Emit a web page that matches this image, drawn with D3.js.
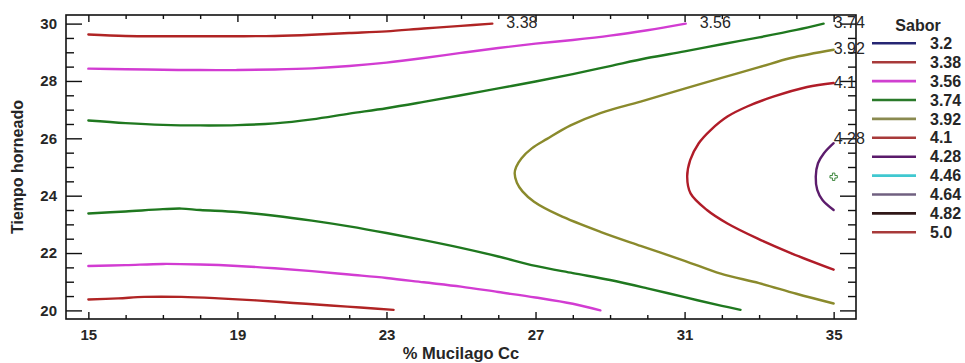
<!DOCTYPE html>
<html>
<head>
<meta charset="utf-8">
<script src="https://cdn.jsdelivr.net/npm/d3@7"></script>
<style>
  html, body { margin: 0; padding: 0; background: #fff; }
  svg { display: block; }
  text { font-family: "Liberation Sans", Arial, sans-serif; fill: #262626; }
</style>
</head>
<body>
<svg id="chart" width="965" height="363"></svg>
<script>
// Contour levels of "Sabor" shown in the legend
const levels = [3.2, 3.38, 3.56, 3.74, 3.92, 4.1, 4.28, 4.46, 4.64, 4.82, 5.0];
const levelLabels = ["3.2", "3.38", "3.56", "3.74", "3.92", "4.1", "4.28", "4.46", "4.64", "4.82", "5.0"];

// Axis ticks
const xTicks = [15, 19, 23, 27, 31, 35];
const yTicks = [20, 22, 24, 26, 28, 30];

// Contour traces: [% Mucilago Cc, Tiempo horneado]
const sabor338Upper = [[15,29.62],[16,29.57],[17,29.56],[18,29.56],[19,29.56],[20,29.57],[21,29.61],[22,29.67],[23,29.73],[24,29.83],[25,29.92],[25.84,30.0]];
const sabor338Lower = [[15,20.38],[15.8,20.42],[16.5,20.47],[17.5,20.47],[18.5,20.42],[19.5,20.35],[20.5,20.26],[21.5,20.17],[22.3,20.1],[23.19,20.02]];
const sabor356Upper = [[15,28.43],[16,28.41],[17,28.39],[18,28.38],[19,28.38],[20,28.4],[21,28.44],[22,28.52],[23,28.64],[24,28.8],[25,28.98],[26,29.15],[27,29.3],[28,29.43],[29,29.58],[30,29.77],[31.03,30.0]];
const sabor356Lower = [[15,21.55],[16,21.58],[17,21.62],[18,21.6],[19,21.55],[20,21.47],[21,21.37],[22,21.25],[23,21.13],[24,20.98],[25,20.83],[26,20.64],[27,20.45],[28,20.23],[28.74,20.0]];
const sabor374Upper = [[15,26.62],[16,26.53],[17,26.47],[18,26.45],[19,26.46],[20,26.52],[21,26.66],[22,26.86],[23,27.05],[24,27.27],[25,27.5],[26,27.74],[27,27.98],[28,28.24],[29,28.52],[30,28.8],[31,29.03],[32,29.28],[33,29.52],[34,29.78],[34.73,30.0]];
const sabor374Lower = [[15,23.38],[16,23.45],[17,23.53],[17.5,23.55],[18,23.5],[19,23.43],[20,23.3],[21,23.13],[22,22.93],[23,22.7],[24,22.45],[25,22.18],[26,21.88],[27,21.55],[28,21.3],[29,21.06],[30,20.77],[31,20.46],[32,20.16],[32.5,20.02]];
const sabor392 = [[35,29.09],[33.85,28.8],[33,28.48],[31.97,28.1],[31,27.73],[29.82,27.28],[28.74,26.88],[27.94,26.45],[27.31,25.98],[26.9,25.65],[26.62,25.3],[26.48,25.0],[26.44,24.78],[26.5,24.45],[26.65,24.15],[26.96,23.79],[27.63,23.32],[28.74,22.74],[29.82,22.25],[31,21.73],[31.97,21.28],[33,20.95],[34,20.58],[35,20.24]];
const sabor410 = [[35,27.93],[34.29,27.79],[33.4,27.46],[32.68,27.11],[32.15,26.76],[31.7,26.29],[31.38,25.83],[31.15,25.24],[31.07,24.66],[31.16,24.08],[31.6,23.5],[32.15,23.03],[32.95,22.51],[33.85,22.0],[35,21.42]];
const sabor428 = [[35,25.83],[34.74,25.48],[34.58,25.13],[34.52,24.66],[34.56,24.2],[34.7,23.85],[35,23.5]];

// Stationary point of the fitted surface
const centerPoint = [35, 24.66];

const contourLines = [
  { level: 3.38, pts: sabor338Upper },
  { level: 3.38, pts: sabor338Lower },
  { level: 3.56, pts: sabor356Upper },
  { level: 3.56, pts: sabor356Lower },
  { level: 3.74, pts: sabor374Upper },
  { level: 3.74, pts: sabor374Lower },
  { level: 3.92, pts: sabor392 },
  { level: 4.1,  pts: sabor410 },
  { level: 4.28, pts: sabor428 }
];

// Line colour for each level
const levelColors = ["#262673", "#b02424", "#d23cd2", "#1f781f", "#8a8a2c", "#b01c28", "#5c1c6c", "#40c8d0", "#706080", "#301818", "#a83838"];
const legendColors = ["#262673", "#a83a3a", "#d040d0", "#2a7a2a", "#8a8a50", "#a83a3a", "#5a1a6a", "#40c8d0", "#706080", "#301818", "#a83a3a"];
const colorOf = d3.scaleOrdinal().domain(levels).range(levelColors);

const svg = d3.select("#chart");
const W = 965, H = 363;
const plot = { left: 66, right: 856, top: 15, bottom: 319 };

const x = d3.scaleLinear().domain([14.4, 35.6]).range([plot.left, plot.right]);
const y = d3.scaleLinear().domain([19.7, 30.3]).range([plot.bottom, plot.top]);

svg.append("rect").attr("width", W).attr("height", H).attr("fill", "#fff");

// Contour lines
const line = d3.line()
  .x(d => x(d[0]))
  .y(d => y(d[1]))
  .curve(d3.curveCatmullRom.alpha(0.5));

svg.append("g")
  .selectAll("path")
  .data(contourLines)
  .join("path")
  .attr("d", d => line(d.pts))
  .attr("fill", "none")
  .attr("stroke", d => colorOf(d.level))
  .attr("stroke-width", 2.4)
  .attr("stroke-linejoin", "round")
  .attr("stroke-linecap", "round");

// Centre marker
svg.append("path")
  .attr("d", d3.symbol(d3.symbolCross, 30)())
  .attr("transform", `translate(${x(centerPoint[0])},${y(centerPoint[1])})`)
  .attr("fill", "none")
  .attr("stroke", "#2a7a2a")
  .attr("stroke-width", 0.9);

// Axes: major ticks with labels, minor ticks without
const xMinor = d3.range(15, 35.01, 1).filter(v => !xTicks.includes(v));
const yMinor = d3.range(20, 30.01, 0.5).filter(v => !yTicks.includes(v));

function styleAxis(g) {
  g.select(".domain").remove();
  g.selectAll(".tick line").attr("stroke", "#111").attr("stroke-width", 1.4);
  g.selectAll(".tick text")
    .attr("fill", "#262626")
    .style("font-family", '"Liberation Sans", Arial, sans-serif')
    .style("font-size", "15px")
    .style("font-weight", "bold");
}

svg.append("g").attr("transform", `translate(0,${plot.bottom})`)
  .call(d3.axisBottom(x).tickValues(xTicks).tickSize(-7).tickPadding(10).tickFormat(d3.format("d")))
  .call(styleAxis);
svg.append("g").attr("transform", `translate(0,${plot.bottom})`)
  .call(d3.axisBottom(x).tickValues(xMinor).tickSize(-4).tickFormat(""))
  .call(styleAxis);
svg.append("g").attr("transform", `translate(0,${plot.top})`)
  .call(d3.axisTop(x).tickValues(xTicks).tickSize(-7).tickFormat(""))
  .call(styleAxis);
svg.append("g").attr("transform", `translate(0,${plot.top})`)
  .call(d3.axisTop(x).tickValues(xMinor).tickSize(-4).tickFormat(""))
  .call(styleAxis);

svg.append("g").attr("transform", `translate(${plot.left},0)`)
  .call(d3.axisLeft(y).tickValues(yTicks).tickSize(-16).tickPadding(9).tickFormat(d3.format("d")))
  .call(styleAxis);
svg.append("g").attr("transform", `translate(${plot.left},0)`)
  .call(d3.axisLeft(y).tickValues(yMinor).tickSize(-8).tickFormat(""))
  .call(styleAxis);
svg.append("g").attr("transform", `translate(${plot.right},0)`)
  .call(d3.axisRight(y).tickValues(yTicks).tickSize(-16).tickFormat(""))
  .call(styleAxis);
svg.append("g").attr("transform", `translate(${plot.right},0)`)
  .call(d3.axisRight(y).tickValues(yMinor).tickSize(-8).tickFormat(""))
  .call(styleAxis);

// Plot frame
svg.append("rect")
  .attr("x", plot.left).attr("y", plot.top)
  .attr("width", plot.right - plot.left).attr("height", plot.bottom - plot.top)
  .attr("fill", "none").attr("stroke", "#111").attr("stroke-width", 1.6);

// Contour labels at the highest end of each level
const labelMaxX = x(35);
const labelData = levels.map((lv, i) => {
  const pts = contourLines.filter(c => c.level === lv).flatMap(c => [c.pts[0], c.pts[c.pts.length - 1]]);
  if (!pts.length) return null;
  const top = pts.reduce((a, b) => (b[1] > a[1] ? b : a));
  return { text: levelLabels[i], px: x(top[0]), py: y(top[1]), edge: top[0] >= 35 };
}).filter(Boolean);

svg.append("g")
  .selectAll("text")
  .data(labelData)
  .join("text")
  .attr("x", d => Math.min(d.px + 14, labelMaxX))
  .attr("y", d => d.py - (d.edge && d.py > 120 ? 5 : 1))
  .attr("dy", "0.35em")
  .style("font-size", "16px")
  .attr("fill", "#333")
  .text(d => d.text);

// Axis titles
svg.append("text")
  .attr("x", (plot.left + plot.right) / 2)
  .attr("y", 353)
  .attr("dy", "0.35em")
  .attr("text-anchor", "middle")
  .style("font-size", "16.5px")
  .style("font-weight", "bold")
  .text("% Mucilago Cc");

svg.append("text")
  .attr("transform", `translate(17.5,${(plot.top + plot.bottom) / 2}) rotate(-90)`)
  .attr("dy", "0.35em")
  .attr("text-anchor", "middle")
  .style("font-size", "16px")
  .style("font-weight", "bold")
  .text("Tiempo horneado");

// Legend
const legend = svg.append("g");
legend.append("text")
  .attr("x", 918).attr("y", 25).attr("dy", "0.35em")
  .attr("text-anchor", "middle")
  .style("font-size", "16px")
  .style("font-weight", "bold")
  .text("Sabor");

const rowY = d3.scalePoint().domain(levelLabels).range([43.3, 232.3]);
const rows = legend.selectAll("g.row")
  .data(levelLabels)
  .join("g")
  .attr("class", "row")
  .attr("transform", d => `translate(0,${rowY(d)})`);
rows.append("line")
  .attr("x1", 872).attr("x2", 916)
  .attr("stroke", (d, i) => legendColors[i])
  .attr("stroke-width", 2.6);
rows.append("text")
  .attr("x", 930).attr("dy", "0.35em")
  .style("font-size", "16px")
  .style("font-weight", "bold")
  .text(d => d);
</script>
</body>
</html>
